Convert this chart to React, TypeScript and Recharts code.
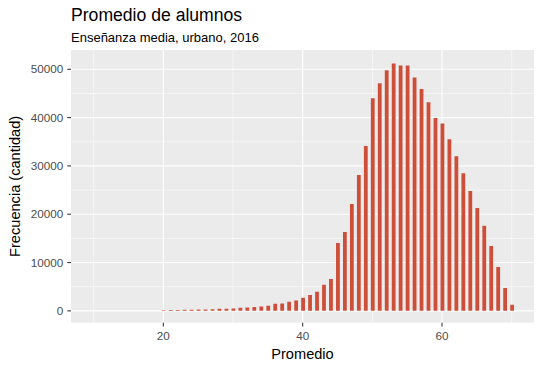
import React from 'react';
import { BarChart, Bar, XAxis, YAxis, CartesianGrid } from 'recharts';

const promedio = [20, 21, 22, 23, 24, 25, 26, 27, 28, 29, 30, 31, 32, 33, 34, 35, 36, 37, 38, 39, 40, 41, 42, 43, 44, 45, 46, 47, 48, 49, 50, 51, 52, 53, 54, 55, 56, 57, 58, 59, 60, 61, 62, 63, 64, 65, 66, 67, 68, 69, 70];
const frecuencia = [150, 180, 200, 220, 240, 260, 280, 320, 420, 460, 500, 620, 680, 820, 880, 1050, 1450, 1500, 1900, 2150, 2700, 3300, 3950, 5400, 6600, 14050, 16300, 22100, 28100, 34100, 44000, 47100, 49800, 51200, 50800, 50800, 48300, 45900, 43200, 39900, 38800, 35500, 32000, 28500, 24800, 21300, 17600, 13400, 9100, 4750, 1240];

const xTicks = [20, 40, 60];
const xMinor = [10, 30, 50, 70];
const yTicks = [0, 10000, 20000, 30000, 40000, 50000];
const yMinor = [5000, 15000, 25000, 35000, 45000];

const titulo = 'Promedio de alumnos';
const subtitulo = 'Enseñanza media, urbano, 2016';
const xTitulo = 'Promedio';
const yTitulo = 'Frecuencia (cantidad)';

const data = promedio.map((p, i) => ({ x: p, n: frecuencia[i] }));

const FONT = '"Liberation Sans", Arial, sans-serif';

export default function App() {
  return (
    <div style={{ position: 'absolute', left: 0, top: 0, width: 542, height: 367, background: '#fff', fontFamily: FONT }}>
      <div style={{ position: 'absolute', left: 71, top: 6.8, fontSize: 17.6, lineHeight: '17.6px', color: '#000', whiteSpace: 'nowrap' }}>{titulo}</div>
      <div style={{ position: 'absolute', left: 71, top: 30.7, fontSize: 13, lineHeight: '13px', color: '#000', whiteSpace: 'nowrap' }}>{subtitulo}</div>
      <BarChart width={542} height={367} data={data} margin={{ top: 50, right: 8, bottom: 0, left: 0 }} style={{ position: 'absolute', left: 0, top: 0 }}>
        <CartesianGrid fill="#EBEBEB" stroke="#FFFFFF" strokeWidth={0.55} horizontalValues={yMinor} verticalValues={xMinor} />
        <CartesianGrid stroke="#FFFFFF" strokeWidth={1.1} horizontalValues={yTicks} verticalValues={xTicks} />
        <XAxis
          type="number"
          dataKey="x"
          domain={[6.75, 73.2]}
          ticks={xTicks}
          allowDataOverflow
          axisLine={false}
          tickSize={3.7}
          tickMargin={5}
          height={44.3}
          tickLine={{ stroke: '#333333', strokeWidth: 1.07 }}
          tick={{ fill: '#4D4D4D', fontSize: 11.7, fontFamily: FONT }}
          label={{ value: xTitulo, position: 'insideBottom', offset: 8, fill: '#000', fontSize: 14.6, fontFamily: FONT }}
        />
        <YAxis
          type="number"
          domain={[-2450, 53990]}
          ticks={yTicks}
          allowDataOverflow
          axisLine={false}
          width={71}
          tickSize={3.7}
          tickMargin={4}
          tickLine={{ stroke: '#333333', strokeWidth: 1.07 }}
          tick={{ fill: '#4D4D4D', fontSize: 11.7, fontFamily: FONT }}
          label={{ value: yTitulo, angle: -90, position: 'insideLeft', offset: 15, fill: '#000', fontSize: 14.6, fontFamily: FONT, style: { textAnchor: 'middle' } }}
        />
        <Bar dataKey="n" fill="#CD4F39" barSize={3.8} isAnimationActive={false} />
      </BarChart>
    </div>
  );
}
